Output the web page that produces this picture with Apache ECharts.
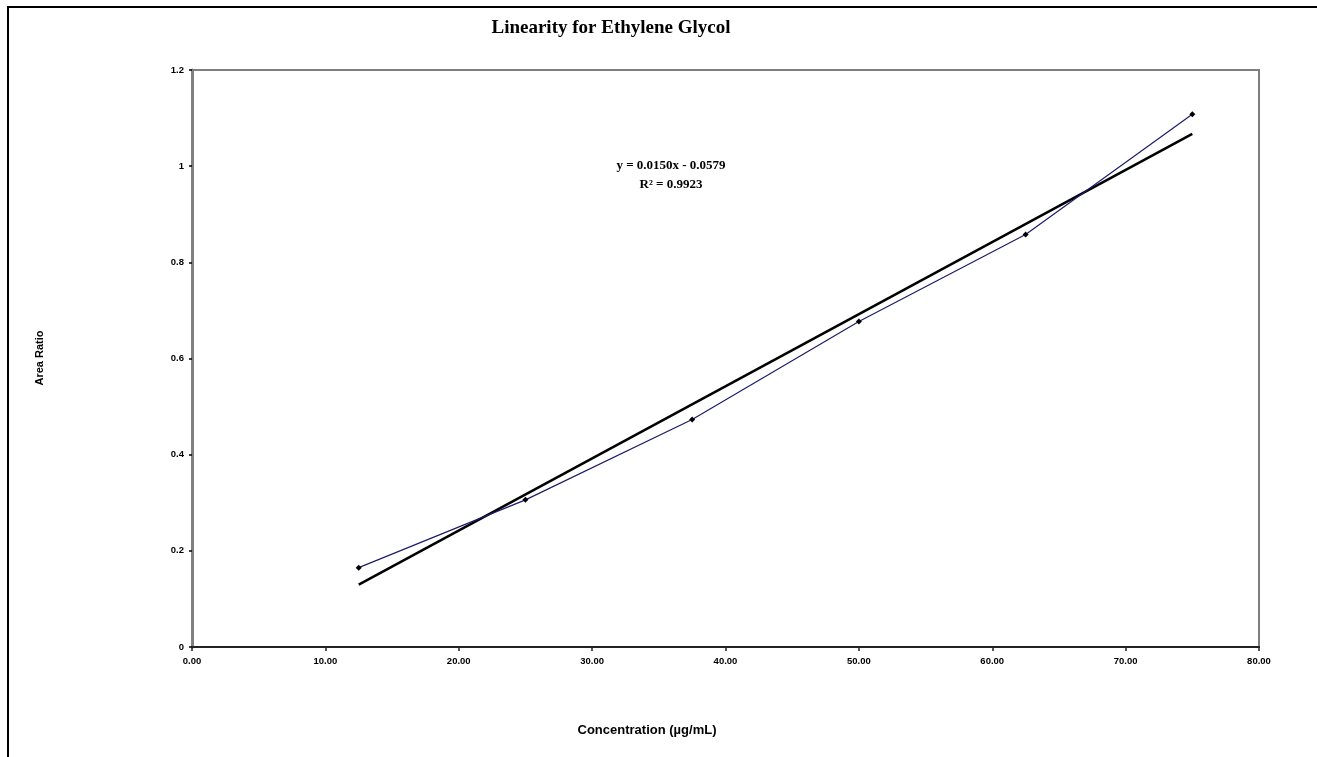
<!DOCTYPE html>
<html><head><meta charset="utf-8">
<script src="https://cdn.jsdelivr.net/npm/echarts@6/dist/echarts.min.js"></script>
<style>html,body{margin:0;padding:0;background:#fff}#c{width:1317px;height:757px}</style>
</head><body><div id="c"></div>
<script>
var concentrations = [12.5, 25, 37.5, 50, 62.5, 75];
var areaRatios = [0.165, 0.306, 0.473, 0.677, 0.858, 1.108];
var trendX = [12.5, 75];
var trendY = [0.1296, 1.0671];
var xTicks = [0, 10, 20, 30, 40, 50, 60, 70, 80];
var yTicks = [0, 0.2, 0.4, 0.6, 0.8, 1, 1.2];
var equationText = 'y = 0.0150x - 0.0579';
var r2Text = 'R² = 0.9923';

var chart = echarts.init(document.getElementById('c'), null, {renderer: 'canvas'});
var labelFont = {fontFamily: 'Liberation Sans', fontWeight: 'bold', fontSize: 9.5, color: '#000'};
chart.setOption({
  animation: false,
  backgroundColor: '#fff',
  title: {
    text: 'Linearity for Ethylene Glycol',
    left: 606, top: 14, textAlign: 'center',
    textStyle: {fontFamily: 'Liberation Serif', fontWeight: 'bold', fontSize: 19, color: '#000'}
  },
  grid: {left: 192, top: 70, right: 58, bottom: 110, show: true, borderColor: '#7f7f7f', borderWidth: 2, backgroundColor: '#fff'},
  xAxis: {
    type: 'value', min: xTicks[0], max: xTicks[xTicks.length - 1], interval: 10,
    axisLine: {lineStyle: {color: '#222', width: 2}},
    axisTick: {show: true, length: 4, lineStyle: {color: '#222', width: 1.5}},
    axisLabel: Object.assign({margin: 9, formatter: function (v) { return v.toFixed(2); }}, labelFont),
    splitLine: {show: false}
  },
  yAxis: {
    type: 'value', min: yTicks[0], max: yTicks[yTicks.length - 1], interval: 0.2,
    axisLine: {show: true, lineStyle: {color: '#808080', width: 3}},
    axisTick: {show: true, length: 3, lineStyle: {color: '#000', width: 1.5}},
    axisLabel: Object.assign({margin: 8, formatter: function (v) { return String(Math.round(v * 10) / 10); }}, labelFont),
    splitLine: {show: false}
  },
  series: [
    {
      type: 'line', name: 'Trend',
      data: trendX.map(function (x, i) { return [x, trendY[i]]; }),
      showSymbol: false, symbol: 'none',
      lineStyle: {color: '#000', width: 2.5}, z: 2
    },
    {
      type: 'line', name: 'Area Ratio',
      data: concentrations.map(function (x, i) { return [x, areaRatios[i]]; }),
      symbol: 'diamond', symbolSize: 6,
      itemStyle: {color: '#000'},
      lineStyle: {color: '#1c1c6b', width: 1.2}, z: 3
    }
  ],
  graphic: [
    {type: 'rect', shape: {x: 8, y: 7, width: 1330, height: 780}, style: {fill: 'none', stroke: '#000', lineWidth: 2}, silent: true, z: -1},
    {type: 'text', style: {text: equationText + '\n' + r2Text, x: 671, y: 156, textAlign: 'center', font: 'bold 13px "Liberation Serif"', fill: '#000', lineHeight: 19}},
    {type: 'text', style: {text: 'Concentration (µg/mL)', x: 647, y: 724, textAlign: 'center', font: 'bold 13px "Liberation Sans"', fill: '#000'}},
    {type: 'text', rotation: Math.PI / 2, x: 34, y: 358, style: {text: 'Area Ratio', x: 0, y: 0, textAlign: 'center', font: 'bold 11px "Liberation Sans"', fill: '#000'}}
  ]
});
</script></body></html>
